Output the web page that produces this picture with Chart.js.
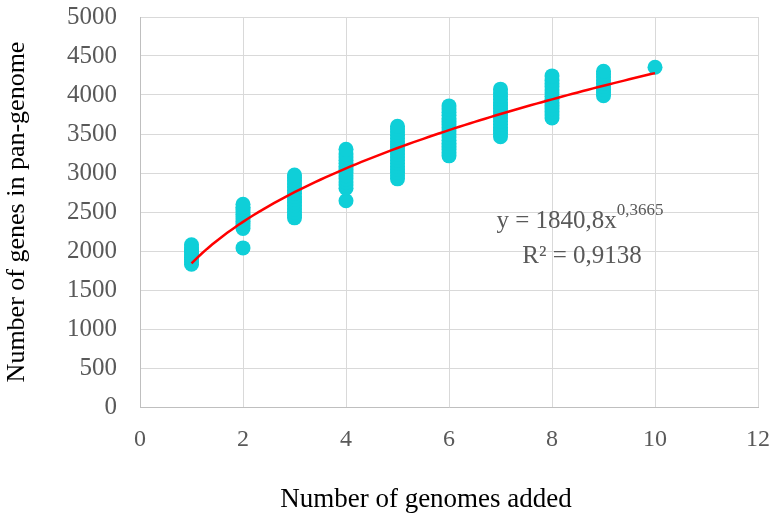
<!DOCTYPE html>
<html>
<head>
<meta charset="utf-8">
<script src="https://cdn.jsdelivr.net/npm/chart.js@4/dist/chart.umd.min.js"></script>
<style>
  html, body { margin: 0; padding: 0; background: #ffffff; }
  #wrap { width: 774px; height: 517px; position: relative; }
</style>
</head>
<body>
<div id="wrap"><canvas id="chart"></canvas></div>
<script>
// Number of genomes added (x) and the pan-genome sizes observed at each step
const genomesAdded = [1, 2, 3, 4, 5, 6, 7, 8, 9, 10];
const genesAt1  = [1830, 1860, 1890, 1920, 1950, 1980, 2010, 2040, 2080];
const genesAt2  = [2040, 2290, 2320, 2350, 2380, 2410, 2440, 2470, 2500, 2530, 2560, 2600];
const genesAt3  = [2425, 2460, 2500, 2540, 2580, 2620, 2660, 2700, 2740, 2780, 2820, 2860, 2900, 2940, 2975];
const genesAt4  = [2645, 2805, 2845, 2885, 2925, 2965, 3005, 3045, 3085, 3125, 3165, 3205, 3245, 3305];
const genesAt5  = [2925, 2965, 3005, 3045, 3085, 3125, 3165, 3205, 3245, 3285, 3325, 3365, 3405, 3445, 3485, 3525, 3565, 3600];
const genesAt6  = [3220, 3260, 3300, 3340, 3380, 3420, 3460, 3500, 3540, 3580, 3620, 3660, 3700, 3740, 3780, 3820, 3860];
const genesAt7  = [3465, 3505, 3545, 3585, 3625, 3665, 3705, 3745, 3785, 3825, 3865, 3905, 3945, 3985, 4025, 4075];
const genesAt8  = [3705, 3745, 3785, 3825, 3865, 3905, 3945, 3985, 4025, 4065, 4105, 4145, 4185, 4245];
const genesAt9  = [3990, 4030, 4070, 4110, 4150, 4190, 4230, 4270, 4305];
const genesAt10 = [4355];
const geneGroups = [genesAt1, genesAt2, genesAt3, genesAt4, genesAt5, genesAt6, genesAt7, genesAt8, genesAt9, genesAt10];

// Axis ticks
const xTickValues = [0, 2, 4, 6, 8, 10, 12];
const yTickValues = [0, 500, 1000, 1500, 2000, 2500, 3000, 3500, 4000, 4500, 5000];

// Power-law fit y = a * x^b with its R²
const fitCoefficient = 1840.8;
const fitExponent = 0.3665;
const fitRSquared = 0.9138;

const scatterPoints = [];
genomesAdded.forEach((n, i) => geneGroups[i].forEach(v => scatterPoints.push({ x: n, y: v })));

const fitPoints = [];
for (let k = 10; k <= 100; k++) {
  const x = k / 10;
  fitPoints.push({ x: x, y: fitCoefficient * Math.pow(x, fitExponent) });
}

const serif = '"Liberation Serif", "Times New Roman", serif';
const tickGrey = '#595959';
const decimalComma = v => String(v).replace('.', ',');

// Fit equation and horizontal axis title
const labelsPlugin = {
  id: 'fitLabels',
  afterDraw(chart) {
    const ctx = chart.ctx;
    const area = chart.chartArea;
    ctx.save();
    ctx.fillStyle = tickGrey;
    ctx.textBaseline = 'alphabetic';
    const cx = area.left + 440;
    const main = 'y = ' + decimalComma(fitCoefficient) + 'x';
    const sup = decimalComma(fitExponent);
    ctx.font = '25px ' + serif;
    const wMain = ctx.measureText(main).width;
    ctx.font = '17px ' + serif;
    const wSup = ctx.measureText(sup).width;
    const startX = cx - (wMain + wSup) / 2;
    ctx.font = '25px ' + serif;
    ctx.textAlign = 'left';
    ctx.fillText(main, startX, area.top + 211);
    ctx.font = '17px ' + serif;
    ctx.fillText(sup, startX + wMain, area.top + 198);
    ctx.font = '25px ' + serif;
    ctx.textAlign = 'center';
    ctx.fillText('R² = ' + decimalComma(fitRSquared), cx + 2, area.top + 246);

    ctx.fillStyle = '#000000';
    ctx.font = '27px ' + serif;
    ctx.fillText('Number of genomes added', 426, 507);
    ctx.restore();
  }
};

new Chart(document.getElementById('chart'), {
  type: 'scatter',
  data: {
    datasets: [
      {
        label: 'Fit',
        type: 'line',
        data: fitPoints,
        borderColor: '#ff0000',
        borderWidth: 2.5,
        pointRadius: 0,
        fill: false,
        tension: 0,
        order: 0
      },
      {
        label: 'Pan-genome',
        data: scatterPoints,
        backgroundColor: '#0fcfd8',
        borderWidth: 0,
        pointRadius: 7.5,
        pointHoverRadius: 7.5,
        order: 1
      }
    ]
  },
  options: {
    responsive: true,
    maintainAspectRatio: false,
    animation: false,
    layout: { padding: { top: 17, right: 16, left: 0, bottom: 0 } },
    plugins: {
      legend: { display: false },
      tooltip: { enabled: false }
    },
    scales: {
      x: {
        type: 'linear',
        min: 0,
        max: 12,
        afterBuildTicks: s => { s.ticks = xTickValues.map(v => ({ value: v })); },
        afterFit: s => { s.height = 110; s.paddingLeft = 0; s.paddingRight = 0; },
        grid: { color: '#d9d9d9', lineWidth: 1, drawTicks: false },
        border: { display: true, color: '#bfbfbf', width: 1 },
        ticks: { color: tickGrey, font: { family: serif, size: 24 }, padding: 18, maxRotation: 0, callback: v => String(v) },
        title: { display: false }
      },
      y: {
        type: 'linear',
        min: 0,
        max: 5000,
        afterBuildTicks: s => { s.ticks = yTickValues.map(v => ({ value: v })); },
        afterFit: s => { s.width = 140; s.paddingTop = 0; s.paddingBottom = 0; },
        grid: { color: '#d9d9d9', lineWidth: 1, drawTicks: false },
        border: { display: true, color: '#bfbfbf', width: 1 },
        ticks: { color: tickGrey, font: { family: serif, size: 25 }, padding: 23, callback: v => String(v) },
        title: {
          display: true,
          text: 'Number of genes in pan-genome',
          color: '#000000',
          font: { family: serif, size: 26 },
          padding: { top: 2, bottom: 0 }
        }
      }
    }
  },
  plugins: [labelsPlugin]
});
</script>
</body>
</html>
